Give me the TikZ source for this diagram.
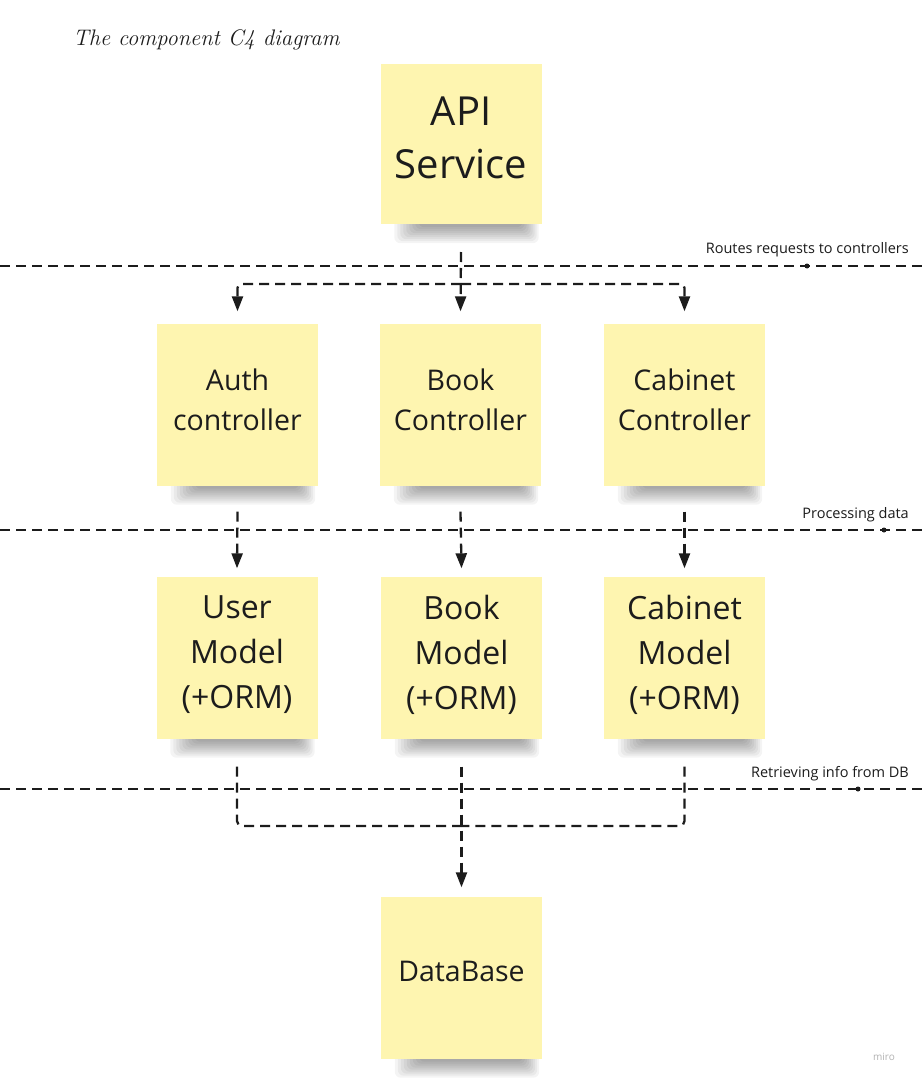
\documentclass[tikz,border=0pt]{standalone}
\usepackage{fontspec}
\newfontfamily\osans{Open Sans}
\usetikzlibrary{arrows.meta,backgrounds}
\definecolor{stickyc}{HTML}{FEF5B0}
\definecolor{inkc}{HTML}{1C1C1C}
\begin{document}
\begin{tikzpicture}[x=1pt,y=-1pt,
  stickybox/.style={fill=stickyc, minimum width=161pt, minimum height=162pt, inner sep=0pt},
  stext/.style={align=center, text=inkc, inner sep=0pt},
  big/.style={stext, font=\osans\fontsize{40}{53}\selectfont},
  mid/.style={stext, font=\osans\fontsize{28.5}{40}\selectfont},
  model/.style={stext, font=\osans\fontsize{32}{45}\selectfont},
  dline/.style={line width=2.3pt, dash pattern=on 10pt off 6pt, draw=inkc},
  conn/.style={dline, -{Triangle[length=15pt,width=11pt]}},
  lbl/.style={font=\osans\fontsize{14.5}{17}\selectfont, text=inkc, anchor=base east, inner sep=0pt},
  dotc/.style={fill=inkc, circle, inner sep=0pt, minimum size=5pt},
]
\useasboundingbox (0,0) rectangle (922,1084);

% title
\node[anchor=base west, inner sep=0pt, font=\itshape\fontsize{22.5}{26}\selectfont, text=inkc] (title) at (73,45) {The component C4 diagram};

% stickies
\node[stickybox, minimum height=160pt] (api) at (461,144) {};
\node[stickybox] (auth) at (237.5,404.5) {};
\node[stickybox] (bookc) at (460.5,404.5) {};
\node[stickybox] (cabc) at (684.5,404.5) {};
\node[stickybox] (userm) at (237,657.5) {};
\node[stickybox] (bookm) at (461.5,657.5) {};
\node[stickybox] (cabm) at (684.5,657.5) {};
\node[stickybox] (db) at (461.5,977.5) {};

% sticky texts
\node[big] (apit) at ([yshift=6pt]api.center) {API\\Service};
\node[mid] (autht) at ([yshift=5pt]auth.center) {Auth\\controller};
\node[mid] (bookct) at ([yshift=5pt]bookc.center) {Book\\Controller};
\node[mid] (cabct) at ([yshift=5pt]cabc.center) {Cabinet\\Controller};
\node[model] (usermt) at ([yshift=3pt]userm.center) {User\\Model\\(+ORM)};
\node[model] (bookmt) at ([yshift=3pt]bookm.center) {Book\\Model\\(+ORM)};
\node[model] (cabmt) at ([yshift=3pt]cabm.center) {Cabinet\\Model\\(+ORM)};
\node[mid] (dbt) at ([yshift=6pt]db.center) {DataBase};

% background and shadows
\begin{scope}[on background layer]
\fill[white] (0,0) rectangle (922,1084);
\foreach \n in {api,auth,bookc,cabc,userm,bookm,cabm,db}{
  \foreach \k in {0,...,8}{
    \fill[black, opacity=0.045, rounded corners=6pt]
      ([xshift={14pt+3*\k pt}, yshift=6pt]\n.south west) rectangle
      ([xshift={-3pt-2*\k pt}, yshift={-(19-2*\k)*1pt}]\n.south east);
  }
}
\end{scope}

% separator lines
\coordinate (s1a) at (0,266); \coordinate (s1b) at (922,266);
\coordinate (s2a) at (0,530); \coordinate (s2b) at (922,530);
\coordinate (s3a) at (0,789); \coordinate (s3b) at (922,789);
\draw[dline] (s1a) -- (s1b);
\draw[dline] (s2a) -- (s2b);
\draw[dline] (s3a) -- (s3b);
\node[dotc] (d1) at (807,266) {};
\node[dotc] (d2) at (884,530) {};
\node[dotc] (d3) at (858,789) {};
\node[lbl] (l1) at (909,253) {Routes requests to controllers};
\node[lbl] (l2) at (909,518) {Processing data};
\node[lbl] (l3) at (909,777) {Retrieving info from DB};

% connectors: API -> controllers
\coordinate (apiout) at (461,252);
\coordinate (split) at (461,284);
\draw[conn] (apiout) -- ([yshift=12pt]bookc.north);
\draw[conn, rounded corners=4pt] (split) -| ([yshift=12pt]auth.north);
\draw[conn, rounded corners=4pt] (split) -| ([yshift=12pt]cabc.north);

% controllers -> models
\draw[conn] ([yshift=-26pt]auth.south) -- ([yshift=8pt]userm.north);
\draw[conn] ([yshift=-26pt]bookc.south) -- ([yshift=8pt]bookm.north);
\draw[conn] ([yshift=-26pt]cabc.south) -- ([yshift=8pt]cabm.north);

% models -> database
\coordinate (join) at (461,826);
\draw[dline, rounded corners=5pt] ([yshift=-28pt]userm.south) |- (join);
\draw[dline, rounded corners=5pt] ([yshift=-28pt]cabm.south) |- (join);
\draw[conn] ([yshift=-28pt]bookm.south) -- ([yshift=9pt]db.north);

% watermark
\node[font=\osans\fontsize{10}{12}\selectfont, text=black!30, anchor=base] (miro) at (884,1060) {miro};
\end{tikzpicture}
\end{document}
